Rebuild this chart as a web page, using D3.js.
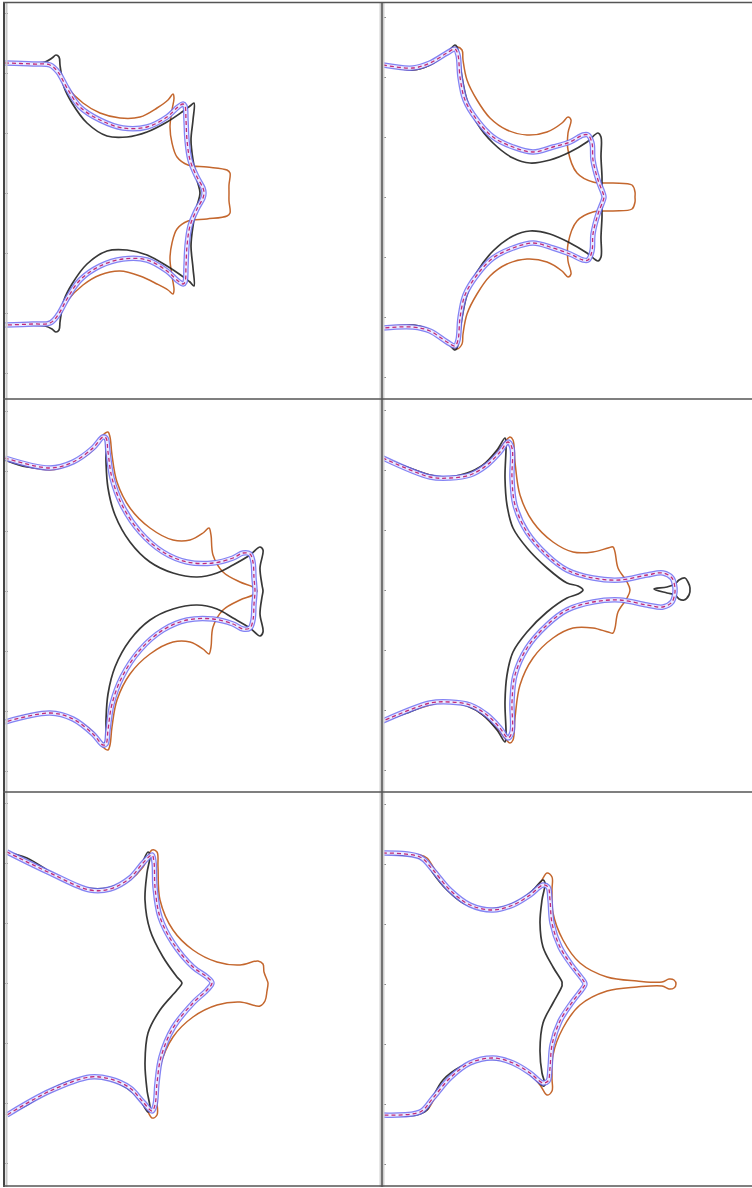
<!DOCTYPE html>
<html>
<head>
<meta charset="utf-8">
<script src="https://cdn.jsdelivr.net/npm/d3@7/dist/d3.min.js"></script>
<style>
  html, body { margin: 0; padding: 0; background: #fff; }
  svg { display: block; }
</style>
</head>
<body>
<svg id="chart" width="752" height="1188"></svg>
<script>
// Interface contours for six stages. Each contour: [x, y] with x measured from
// the panel's left edge and y from the panel's symmetry line (negative = above).

// Stage 1
const p1Black = [[1,-131],[21,-130],[41,-131],[48,-135],[52,-138],[55,-136],[56,-128],[57,-121],[60,-106],[68,-90],[83,-70],[103,-57],[123,-56],[143,-61],[163,-71],[178,-81],[186,-87],[190,-90],[189,-73],[187,-53],[189,-33],[193,-13],[196,0],
  [193,13],[189,33],[187,53],[189,75],[190,93],[186,89],[178,83],[163,73],[143,62],[123,57],[103,58],[83,71],[68,91],[60,107],[57,122],[56,129],[55,137],[52,139],[48,136],[41,133],[21,132],[1,132]];
const p1Orange = [[1,-130],[29,-128],[46,-128],[53,-123],[63,-106],[79,-90],[96,-80],[116,-75],[136,-76],[153,-85],[164,-93],[169,-99],[170,-95],[168,-83],[166,-66],[168,-50],[173,-36],[184,-28],[203,-26],[223,-23],[226,-20],[225,-8],[225,0],
  [225,8],[226,20],[223,23],[203,26],[184,28],[173,36],[168,50],[166,66],[168,83],[170,97],[169,101],[164,97],[153,91],[136,83],[116,78],[96,82],[79,92],[63,108],[53,124],[46,129],[29,130],[1,132]];
const p1Blue = [[1,-130],[29,-129],[46,-128],[54,-121],[63,-105],[76,-86],[96,-73],[119,-65],[143,-66],[163,-76],[174,-86],[179,-89],[181,-87],[182,-73],[183,-53],[186,-33],[193,-16],[199,-5],[200,0],
  [199,5],[193,16],[186,33],[183,53],[182,73],[181,89],[179,91],[174,88],[163,78],[143,67],[119,66],[96,73],[76,87],[63,106],[54,122],[46,130],[29,131],[1,132]];

// Stage 2
const p2Black = [[1,-132],[18,-129],[31,-127],[48,-132],[65,-144],[73,-152],[75,-150],[77,-140],[80,-120],[85,-97],[95,-74],[111,-54],[131,-39],[148,-34],[168,-37],[188,-45],[205,-55],[216,-64],[219,-60],[219,-40],[220,-20],[220,-10],[221,0],
  [220,10],[220,20],[219,40],[219,60],[216,64],[205,56],[188,46],[168,37],[148,34],[131,39],[111,54],[95,75],[85,98],[80,121],[77,141],[75,151],[73,153],[65,145],[48,133],[31,128],[18,130],[1,131]];
const p2Orange = [[1,-132],[31,-127],[48,-132],[65,-144],[75,-150],[80,-147],[81,-137],[85,-117],[95,-97],[108,-79],[125,-67],[145,-62],[165,-65],[180,-74],[186,-80],[189,-77],[186,-64],[186,-47],[195,-24],[211,-15],[231,-14],[250,-12],[253,-5],[253,0],
  [253,5],[250,12],[231,14],[211,15],[195,24],[186,47],[186,64],[189,77],[186,80],[180,74],[165,65],[145,62],[125,67],[108,79],[95,97],[85,117],[81,137],[80,147],[75,152],[65,146],[48,133],[31,128],[1,131]];
const p2Blue = [[1,-132],[31,-129],[48,-134],[65,-144],[73,-148],[76,-142],[78,-120],[83,-97],[95,-77],[111,-60],[131,-50],[151,-45],[171,-50],[188,-55],[201,-62],[206,-62],[210,-54],[211,-37],[216,-17],[221,-4],[222,0],
  [221,4],[216,17],[211,37],[210,54],[206,63],[201,63],[188,57],[171,51],[151,46],[131,51],[111,61],[95,78],[83,98],[78,121],[76,143],[73,149],[65,145],[48,134],[31,130],[1,131]];

// Stage 3
const p3Black = [[1,-131],[23,-124],[46,-123],[69,-129],[89,-143],[98,-153],[100,-154],[102,-149],[102,-129],[104,-103],[111,-76],[126,-49],[146,-29],[169,-18],[193,-14],[213,-18],[229,-26],[246,-36],[256,-44],[259,-41],[256,-23],[258,-6],[259,0],
  [258,6],[256,23],[259,41],[256,45],[246,37],[229,27],[213,18],[193,14],[169,18],[146,29],[126,49],[111,76],[104,103],[102,129],[102,149],[100,153],[98,152],[89,143],[69,128],[46,122],[23,124],[1,131]];
const p3Orange = [[1,-131],[46,-121],[69,-128],[89,-141],[99,-156],[104,-159],[106,-154],[108,-136],[113,-109],[126,-83],[146,-63],[169,-51],[186,-51],[199,-58],[205,-63],[207,-56],[209,-36],[219,-19],[236,-9],[249,-4],[253,0],
  [249,4],[236,9],[219,19],[209,36],[207,56],[205,63],[199,58],[186,51],[169,51],[146,63],[126,83],[113,109],[108,136],[106,154],[104,159],[99,156],[89,141],[69,128],[46,121],[1,131]];
const p3Blue = [[1,-133],[46,-123],[69,-129],[89,-143],[99,-154],[102,-153],[104,-139],[108,-113],[118,-86],[136,-59],[159,-39],[183,-29],[209,-28],[229,-33],[239,-38],[246,-37],[249,-29],[250,-13],[251,0],
  [250,13],[249,29],[246,37],[239,38],[229,33],[209,28],[183,29],[159,39],[136,59],[118,86],[108,113],[104,139],[102,153],[99,154],[89,143],[69,128],[46,122],[1,131]];

// Stage 4 (the black interface pinches off a droplet)
const p4Black = [[1,-132],[25,-123],[48,-115],[65,-113],[85,-117],[101,-125],[115,-140],[123,-152],[124,-145],[123,-112],[125,-85],[131,-62],[145,-42],[165,-22],[185,-7],[196,-4],[201,0],
  [196,4],[185,8],[165,22],[145,42],[131,62],[125,85],[123,112],[124,145],[123,152],[115,140],[101,125],[85,116],[65,112],[48,114],[25,123],[1,131]];
const p4BlackDrop = [[272,-1],[285,-3],[293,-6],[297,-10],[303,-12],[306,-8],[308,-2],[307,5],[302,10],[297,9],[293,5],[285,3]];
const p4Orange = [[1,-132],[48,-115],[65,-112],[85,-115],[101,-125],[118,-142],[128,-153],[131,-150],[133,-128],[138,-95],[151,-68],[171,-48],[191,-38],[211,-38],[226,-42],[231,-43],[233,-38],[236,-22],[245,-8],[248,0],
  [245,8],[236,22],[233,38],[231,43],[226,42],[211,38],[191,38],[171,48],[151,68],[138,95],[133,128],[131,150],[128,153],[118,142],[101,125],[85,115],[65,112],[48,115],[1,131]];
const p4Blue = [[1,-132],[48,-113],[68,-112],[88,-115],[105,-125],[118,-138],[126,-148],[130,-142],[130,-112],[133,-85],[145,-58],[165,-35],[185,-20],[211,-12],[238,-10],[265,-15],[281,-17],[290,-12],[293,-2],[293,0],
  [293,2],[290,12],[281,17],[265,15],[238,10],[211,12],[185,20],[165,35],[145,58],[133,85],[130,112],[130,142],[126,148],[118,138],[105,125],[88,115],[68,112],[48,113],[1,131]];

// Stage 5
const p5Black = [[2,-131],[23,-125],[46,-111],[63,-101],[83,-95],[103,-95],[123,-103],[136,-116],[144,-131],[146,-128],[143,-110],[141,-83],[146,-53],[159,-26],[173,-6],[178,0],
  [173,7],[156,27],[144,50],[141,80],[143,107],[146,127],[144,129],[136,117],[123,105],[106,97],[86,94],[63,99],[46,107],[23,122],[2,132]];
const p5Orange = [[3,-131],[46,-111],[83,-93],[106,-93],[126,-103],[139,-116],[148,-133],[153,-131],[154,-116],[156,-83],[169,-53],[189,-33],[213,-21],[236,-18],[254,-22],[259,-19],[260,-11],[263,-3],[264,0],
  [263,8],[261,18],[256,23],[236,19],[213,22],[189,34],[169,54],[156,84],[153,117],[153,132],[148,135],[139,118],[126,105],[106,97],[83,95],[46,109],[3,132]];
const p5Blue = [[3,-131],[46,-110],[86,-93],[106,-94],[126,-105],[139,-120],[148,-128],[150,-121],[151,-96],[156,-66],[169,-40],[189,-16],[203,-6],[208,0],
  [203,7],[189,20],[169,45],[157,74],[153,100],[151,122],[148,128],[139,119],[126,105],[106,96],[86,94],[46,108],[3,132]];

// Stage 6
const p6Black = [[1,-131],[18,-129],[35,-127],[45,-121],[51,-111],[65,-94],[81,-81],[101,-75],[121,-77],[138,-84],[151,-94],[161,-104],[163,-101],[160,-84],[158,-61],[161,-37],[171,-17],[180,-2],[180,0],
  [180,2],[171,19],[161,39],[158,66],[160,89],[163,101],[161,102],[151,93],[138,83],[118,76],[98,76],[78,83],[61,96],[51,113],[45,126],[35,131],[1,131]];
const p6Orange = [[1,-131],[18,-129],[38,-129],[45,-126],[53,-114],[68,-94],[85,-81],[108,-74],[128,-77],[145,-87],[158,-101],[165,-111],[170,-107],[170,-94],[171,-71],[181,-44],[198,-21],[225,-7],[255,-3],[280,-2],[287,-5],[292,-4],[294,0],
  [292,4],[287,5],[280,2],[255,3],[225,7],[198,21],[181,44],[171,71],[170,94],[170,107],[165,111],[158,101],[145,87],[128,77],[108,74],[85,81],[68,94],[53,114],[45,126],[38,129],[18,130],[1,131]];
const p6Blue = [[1,-131],[38,-127],[51,-114],[68,-94],[88,-79],[111,-74],[131,-79],[148,-89],[161,-99],[166,-97],[168,-84],[170,-61],[178,-37],[191,-17],[201,-4],[203,0],
  [201,4],[191,17],[178,37],[170,61],[168,84],[166,97],[161,99],[148,89],[131,79],[111,74],[88,79],[68,94],[51,114],[38,128],[1,131]];

// Left-edge tick values (same units as y)
const tickValues = [-180, -120, -60, 0, 60, 120, 180];

// Panel grid
const colLeft = [4, 382], colWidth = [378, 370];
const rowTop = [3, 399, 792], rowHeight = [396, 393, 394];
const axisLine = [[193, 197], [591, 590], [983, 984]];

const panels = [
  { r: 0, c: 0, black: [p1Black], orange: p1Orange, blue: p1Blue },
  { r: 0, c: 1, black: [p2Black], orange: p2Orange, blue: p2Blue },
  { r: 1, c: 0, black: [p3Black], orange: p3Orange, blue: p3Blue },
  { r: 1, c: 1, black: [p4Black], drops: [p4BlackDrop], orange: p4Orange, blue: p4Blue },
  { r: 2, c: 0, black: [p5Black], orange: p5Orange, blue: p5Blue },
  { r: 2, c: 1, black: [p6Black], orange: p6Orange, blue: p6Blue }
];

const svg = d3.select("#chart");
svg.append("rect").attr("width", 752).attr("height", 1188).attr("fill", "#fff");

panels.forEach((p, i) => {
  const left = colLeft[p.c], w = colWidth[p.c];
  const top = rowTop[p.r], h = rowHeight[p.r];
  const ax = axisLine[p.r][p.c];
  const x = d3.scaleLinear().domain([0, w]).range([left, left + w]);
  const y = d3.scaleLinear().domain([top - ax, top + h - ax]).range([top, top + h]);

  const clipId = "clip" + i;
  svg.append("clipPath").attr("id", clipId)
    .append("rect").attr("x", left + 1).attr("y", top).attr("width", w - 1).attr("height", h);

  const g = svg.append("g").attr("clip-path", `url(#${clipId})`);
  const line = d3.line().x(d => x(d[0])).y(d => y(d[1])).curve(d3.curveCatmullRom.alpha(0.5));
  const loop = d3.line().x(d => x(d[0])).y(d => y(d[1])).curve(d3.curveCatmullRomClosed.alpha(0.5));

  g.append("path").attr("d", line(p.orange))
    .attr("fill", "none").attr("stroke", "#c4672e").attr("stroke-width", 1.5);

  p.black.forEach(b => g.append("path").attr("d", line(b))
    .attr("fill", "none").attr("stroke", "#222").attr("stroke-width", 1.7).attr("stroke-opacity", 0.9));
  (p.drops || []).forEach(b => g.append("path").attr("d", loop(b))
    .attr("fill", "none").attr("stroke", "#222").attr("stroke-width", 1.7).attr("stroke-opacity", 0.9));

  // blue band with dashed magenta centre line
  g.append("path").attr("d", line(p.blue))
    .attr("fill", "none").attr("stroke", "#6d6df2").attr("stroke-width", 5.5).attr("stroke-opacity", 0.85)
    .attr("stroke-linejoin", "round");
  g.append("path").attr("d", line(p.blue))
    .attr("fill", "none").attr("stroke", "#ecebff").attr("stroke-width", 3).attr("stroke-linejoin", "round");
  g.append("path").attr("d", line(p.blue))
    .attr("fill", "none").attr("stroke", "#c02a78").attr("stroke-width", 1.3)
    .attr("stroke-dasharray", "4,3");

  // small inner ticks on the left edge
  const ticks = svg.append("g").attr("transform", `translate(${left + 1},0)`)
    .call(d3.axisRight(y).tickValues(tickValues).tickSize(3).tickFormat(""));
  ticks.select(".domain").remove();
  ticks.selectAll("line").attr("stroke", "#888");
});

// Frame and dividers
const frame = svg.append("g");
frame.append("line").attr("x1", 6.5).attr("x2", 6.5).attr("y1", 2).attr("y2", 1187).attr("stroke", "#c8c8c8").attr("stroke-width", 2);
frame.append("line").attr("x1", 4).attr("x2", 4).attr("y1", 2).attr("y2", 1187).attr("stroke", "#444").attr("stroke-width", 2);
frame.append("line").attr("x1", 382).attr("x2", 382).attr("y1", 2).attr("y2", 1187).attr("stroke", "#d0d0d0").attr("stroke-width", 5);
frame.append("line").attr("x1", 382).attr("x2", 382).attr("y1", 2).attr("y2", 1187).attr("stroke", "#555").attr("stroke-width", 1.5);
[2.5, 399, 792, 1186].forEach(v => {
  frame.append("line").attr("x1", 3).attr("x2", 752).attr("y1", v).attr("y2", v)
    .attr("stroke", "#555").attr("stroke-width", 1.6);
});
</script>
</body>
</html>
